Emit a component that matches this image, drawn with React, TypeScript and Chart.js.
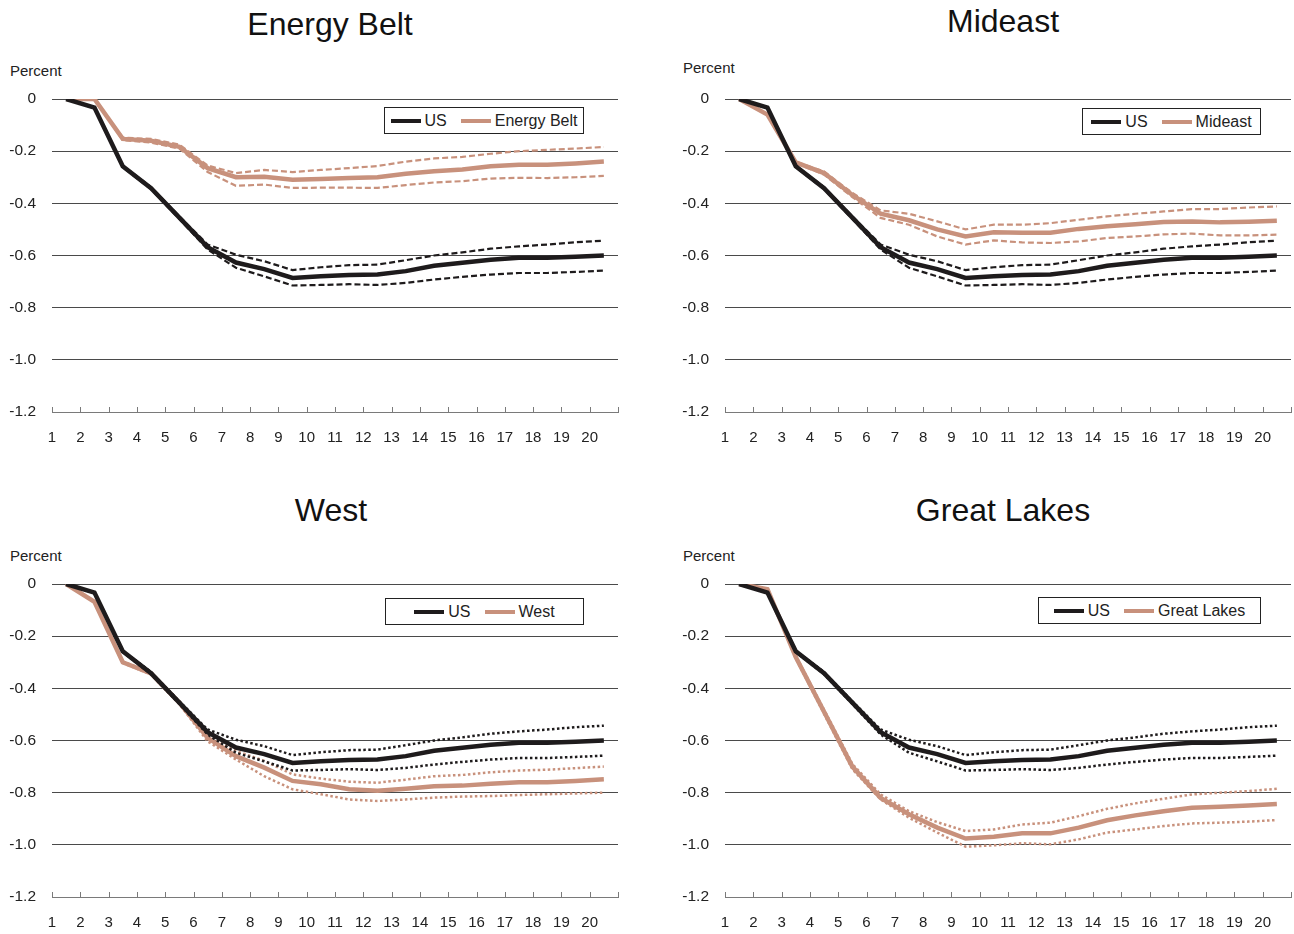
import React, { useEffect, useRef } from "react";
import { Chart, registerables } from "chart.js";

Chart.register(...registerables);

const FONT = "'Liberation Sans', Arial, sans-serif";
const BLACK = "#1e1b1c";
const TAN = "#c8917c";

const horizons = [1, 2, 3, 4, 5, 6, 7, 8, 9, 10, 11, 12, 13, 14, 15, 16, 17, 18, 19, 20];
const yTickValues = [0, -0.2, -0.4, -0.6, -0.8, -1.0, -1.2];

const usMain = [0, -0.033, -0.258, -0.342, -0.455, -0.568, -0.627, -0.652, -0.686, -0.68, -0.675, -0.673, -0.66, -0.639, -0.628, -0.616, -0.609, -0.609, -0.605, -0.6];
const usUpper = [0, -0.033, -0.255, -0.338, -0.45, -0.558, -0.597, -0.622, -0.656, -0.645, -0.637, -0.635, -0.618, -0.6, -0.588, -0.574, -0.565, -0.558, -0.549, -0.543];
const usLower = [0, -0.033, -0.261, -0.346, -0.46, -0.577, -0.647, -0.68, -0.715, -0.713, -0.71, -0.713, -0.705, -0.692, -0.682, -0.673, -0.667, -0.667, -0.663, -0.658];

const energyMain = [0, 0, -0.153, -0.16, -0.183, -0.265, -0.3, -0.298, -0.31, -0.307, -0.303, -0.3, -0.287, -0.277, -0.27, -0.258, -0.252, -0.252, -0.247, -0.24];
const energyUpper = [0, 0, -0.148, -0.153, -0.175, -0.255, -0.284, -0.272, -0.28, -0.272, -0.265, -0.257, -0.24, -0.228, -0.222, -0.21, -0.2, -0.195, -0.19, -0.184];
const energyLower = [0, 0, -0.158, -0.167, -0.19, -0.28, -0.333, -0.328, -0.341, -0.34, -0.34, -0.341, -0.33, -0.32, -0.315, -0.305, -0.302, -0.303, -0.3, -0.295];

const mideastMain = [0, -0.06, -0.243, -0.284, -0.368, -0.44, -0.465, -0.5, -0.527, -0.511, -0.513, -0.513, -0.498, -0.488, -0.48, -0.472, -0.47, -0.473, -0.471, -0.467];
const mideastUpper = [0, -0.058, -0.24, -0.278, -0.36, -0.427, -0.44, -0.469, -0.5, -0.482, -0.482, -0.476, -0.463, -0.45, -0.44, -0.431, -0.422, -0.422, -0.416, -0.412];
const mideastLower = [0, -0.062, -0.246, -0.29, -0.376, -0.456, -0.482, -0.527, -0.558, -0.542, -0.55, -0.552, -0.546, -0.533, -0.527, -0.519, -0.516, -0.523, -0.523, -0.52];

const westMain = [0, -0.068, -0.3, -0.343, -0.455, -0.59, -0.66, -0.704, -0.755, -0.768, -0.787, -0.793, -0.785, -0.775, -0.773, -0.766, -0.76, -0.76, -0.755, -0.749];
const westUpper = [0, -0.066, -0.297, -0.34, -0.45, -0.585, -0.64, -0.678, -0.73, -0.746, -0.758, -0.762, -0.75, -0.737, -0.732, -0.722, -0.715, -0.712, -0.706, -0.7];
const westLower = [0, -0.07, -0.303, -0.347, -0.46, -0.603, -0.673, -0.737, -0.787, -0.806, -0.826, -0.832, -0.826, -0.819, -0.815, -0.813, -0.809, -0.806, -0.803, -0.8];

const lakesMain = [0, -0.02, -0.28, -0.49, -0.7, -0.82, -0.883, -0.934, -0.976, -0.969, -0.956, -0.956, -0.934, -0.906, -0.887, -0.871, -0.858, -0.854, -0.849, -0.843];
const lakesUpper = [0, -0.02, -0.275, -0.482, -0.69, -0.807, -0.871, -0.913, -0.947, -0.941, -0.922, -0.915, -0.89, -0.862, -0.841, -0.823, -0.807, -0.8, -0.794, -0.785];
const lakesLower = [0, -0.02, -0.285, -0.498, -0.71, -0.826, -0.896, -0.953, -1.007, -1.002, -0.994, -0.998, -0.979, -0.953, -0.941, -0.928, -0.918, -0.915, -0.911, -0.905];

const toXY = (arr: number[]) => horizons.map((h, i) => ({ x: h, y: arr[i] }));
// category boundaries (tick marks / labels sit at the left edge of each horizon)
const boundaries = horizons.map((h) => h - 0.5).concat([horizons[horizons.length - 1] + 0.5]);

const tickMarkPlugin = {
  id: "insideTicks",
  afterDraw(chart: any) {
    const xs = chart.scales.x;
    const ctx = chart.ctx;
    const bottom = chart.chartArea.bottom;
    ctx.save();
    ctx.strokeStyle = "#7a7a7a";
    ctx.lineWidth = 1;
    ctx.beginPath();
    xs.ticks.forEach((t: any) => {
      const px = Math.round(xs.getPixelForValue(t.value)) + 0.5;
      ctx.moveTo(px, bottom);
      ctx.lineTo(px, bottom - 5);
    });
    ctx.stroke();
    ctx.restore();
  },
};

const PLOT_W = 566;
const PLOT_H = 313;
const AXIS_W = 52;
const PAD_TOP = 19;
const PAD_RIGHT = 3;
const AXIS_H = 48;

type PanelProps = {
  region: string;
  main: number[];
  upper: number[];
  lower: number[];
  plotLeft: number;
  plotTop: number;
  dash: number[];
  bandWidth: number;
};

function Panel({ region, main, upper, lower, plotLeft, plotTop, dash, bandWidth }: PanelProps) {
  const ref = useRef<HTMLCanvasElement | null>(null);
  const width = AXIS_W + PLOT_W + PAD_RIGHT;
  const height = PAD_TOP + PLOT_H + AXIS_H;

  useEffect(() => {
    if (!ref.current) return;
    const chart = new Chart(ref.current, {
      type: "line",
      data: {
        datasets: [
          { label: "US", data: toXY(usMain), borderColor: BLACK, borderWidth: 4.5 },
          { label: "US upper", data: toXY(usUpper), borderColor: BLACK, borderWidth: bandWidth, borderDash: dash },
          { label: "US lower", data: toXY(usLower), borderColor: BLACK, borderWidth: bandWidth, borderDash: dash },
          { label: region, data: toXY(main), borderColor: TAN, borderWidth: 4.5 },
          { label: region + " upper", data: toXY(upper), borderColor: TAN, borderWidth: bandWidth, borderDash: dash },
          { label: region + " lower", data: toXY(lower), borderColor: TAN, borderWidth: bandWidth, borderDash: dash },
        ],
      } as any,
      options: {
        animation: false,
        responsive: false,
        devicePixelRatio: 1,
        layout: { padding: { top: PAD_TOP, right: PAD_RIGHT, left: 0, bottom: 0 } },
        plugins: { legend: { display: false }, tooltip: { enabled: false }, title: { display: false } },
        elements: { point: { radius: 0 }, line: { tension: 0, borderJoinStyle: "miter", borderCapStyle: "butt" } },
        scales: {
          x: {
            type: "linear",
            min: boundaries[0],
            max: boundaries[boundaries.length - 1],
            afterBuildTicks: (s: any) => {
              s.ticks = boundaries.map((v) => ({ value: v }));
            },
            afterFit: (s: any) => {
              s.height = AXIS_H;
            },
            grid: { display: false, drawTicks: true, tickLength: 17 },
            border: { display: true, color: "#7a7a7a", width: 1 },
            ticks: {
              autoSkip: false,
              maxRotation: 0,
              minRotation: 0,
              padding: 0,
              color: "#222",
              font: { family: FONT, size: 15 },
              callback: (v: any) => {
                const h = Math.round(Number(v) + 0.5);
                return horizons.includes(h) ? String(h) : "";
              },
            },
          },
          y: {
            min: -1.2,
            max: 0,
            afterBuildTicks: (s: any) => {
              s.ticks = yTickValues.map((v) => ({ value: v }));
            },
            afterFit: (s: any) => {
              s.width = AXIS_W;
            },
            grid: {
              drawTicks: true,
              tickLength: 16,
              tickColor: "rgba(0,0,0,0)",
              lineWidth: 1,
              color: (c: any) => (c.tick && c.tick.value <= -1.19 ? "rgba(0,0,0,0)" : "#4a4a4a"),
            },
            border: { display: false },
            ticks: {
              padding: 0,
              color: "#222",
              font: { family: FONT, size: 15.5 },
              callback: (v: any) => (Number(v) === 0 ? "0" : Number(v).toFixed(1)),
            },
          },
        },
      } as any,
      plugins: [tickMarkPlugin],
    });
    return () => chart.destroy();
  }, []);

  return (
    <canvas
      ref={ref}
      width={width}
      height={height}
      style={{
        position: "absolute",
        left: plotLeft - AXIS_W,
        top: plotTop - PAD_TOP,
        width,
        height,
      }}
    />
  );
}

function Legend({ region, left, top, width }: { region: string; left: number; top: number; width: number }) {
  const sample = (color: string) => (
    <span style={{ display: "inline-block", width: 30, height: 4, background: color, marginRight: 4 }} />
  );
  return (
    <div
      style={{
        position: "absolute",
        left,
        top,
        width,
        height: 27,
        boxSizing: "border-box",
        border: "1px solid #222",
        background: "#fff",
        display: "flex",
        alignItems: "center",
        justifyContent: "center",
        fontFamily: FONT,
        fontSize: 16,
        color: "#222",
        whiteSpace: "nowrap",
      }}
    >
      {sample(BLACK)}
      <span style={{ marginRight: 14 }}>US</span>
      {sample(TAN)}
      <span>{region}</span>
    </div>
  );
}

function Title({ text, center, top }: { text: string; center: number; top: number }) {
  return (
    <div
      style={{
        position: "absolute",
        left: center - 250,
        top,
        width: 500,
        textAlign: "center",
        fontFamily: FONT,
        fontSize: 32,
        lineHeight: "36px",
        color: "#111",
      }}
    >
      {text}
    </div>
  );
}

function Unit({ left, top }: { left: number; top: number }) {
  return (
    <div
      style={{
        position: "absolute",
        left,
        top,
        fontFamily: FONT,
        fontSize: 15,
        lineHeight: "18px",
        color: "#222",
      }}
    >
      Percent
    </div>
  );
}

export default function App() {
  return (
    <div
      style={{
        position: "fixed",
        left: 0,
        top: 0,
        width: 1294,
        height: 934,
        background: "#fff",
        overflow: "hidden",
      }}
    >
      <Title text="Energy Belt" center={330} top={6} />
      <Title text="Mideast" center={1003} top={3} />
      <Title text="West" center={331} top={492} />
      <Title text="Great Lakes" center={1003} top={492} />

      <Unit left={10} top={62} />
      <Unit left={683} top={59} />
      <Unit left={10} top={547} />
      <Unit left={683} top={547} />

      <Panel region="Energy Belt" main={energyMain} upper={energyUpper} lower={energyLower} plotLeft={52} plotTop={99} dash={[6, 3]} bandWidth={2.2} />
      <Panel region="Mideast" main={mideastMain} upper={mideastUpper} lower={mideastLower} plotLeft={725} plotTop={99} dash={[6, 3]} bandWidth={2.2} />
      <Panel region="West" main={westMain} upper={westUpper} lower={westLower} plotLeft={52} plotTop={584} dash={[2.5, 2.5]} bandWidth={2.5} />
      <Panel region="Great Lakes" main={lakesMain} upper={lakesUpper} lower={lakesLower} plotLeft={725} plotTop={584} dash={[2.5, 2.5]} bandWidth={2.5} />

      <Legend region="Energy Belt" left={384} top={107} width={200} />
      <Legend region="Mideast" left={1082} top={108} width={179} />
      <Legend region="West" left={385} top={598} width={199} />
      <Legend region="Great Lakes" left={1038} top={597} width={223} />
    </div>
  );
}
